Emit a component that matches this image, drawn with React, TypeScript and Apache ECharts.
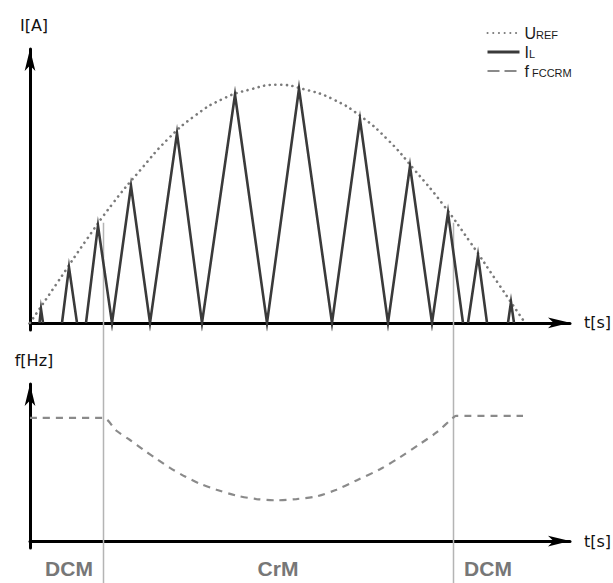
import React, { useEffect, useRef } from "react";
import * as echarts from "echarts";

// time axis (arbitrary units) and top-chart scale (U_REF peak = 1)
const T_MAX = 10.8;
const I_MIN = -0.03;
const I_MAX = 1.15;
const F_MIN = -0.056;
const F_MAX = 1.274;

// inductor current triangles: [start, peak time, end, peak value]
const ilTriangles: number[][] = [
  [0.19, 0.22, 0.26, 0.058],
  [0.64, 0.78, 0.94, 0.233],
  [1.12, 1.36, 1.64, 0.408],
  [1.64, 2.02, 2.4, 0.575],
  [2.4, 2.94, 3.44, 0.796],
  [3.44, 4.1, 4.74, 0.958],
  [4.74, 5.38, 6.04, 0.983],
  [6.04, 6.6, 7.16, 0.854],
  [7.16, 7.6, 8.04, 0.658],
  [8.04, 8.36, 8.66, 0.4625],
  [8.76, 8.96, 9.14, 0.283],
  [9.56, 9.62, 9.68, 0.0875],
];

// reference envelope U_REF
const urefT = [0, 0.55, 1.1, 1.65, 2.2, 2.75, 3.3, 3.85, 4.4, 4.95, 5.5, 6.05, 6.6, 7.15, 7.7, 8.25, 8.8, 9.35, 9.9];
const urefV = [0, 0.17, 0.34, 0.5, 0.64, 0.77, 0.87, 0.94, 0.98, 1.0, 0.98, 0.94, 0.87, 0.77, 0.64, 0.5, 0.34, 0.17, 0];

// switching frequency f_FCCRM
const fT = [0, 1.46, 1.73, 2.0, 2.27, 2.53, 2.8, 3.1, 3.4, 3.73, 4.13, 4.53, 4.93, 5.33, 5.73, 6.13, 6.53, 7.0, 7.4, 7.8, 8.13, 8.46, 8.52, 9.86];
const fV = [1.0, 1.0, 0.895, 0.82, 0.74, 0.667, 0.594, 0.524, 0.465, 0.417, 0.369, 0.341, 0.331, 0.341, 0.363, 0.417, 0.492, 0.583, 0.68, 0.788, 0.881, 1.0, 1.016, 1.016];

// operating modes
const modeBounds = [0.1, 1.46, 8.46, 9.86];
const modeLabels = ["DCM", "CrM", "DCM"];
const modeLineTop = 0.42;

const FONT = "DejaVu Sans";

function buildIL(): (number | null)[][] {
  const out: (number | null)[][] = [];
  let lastEnd: number | null = null;
  for (const [s, p, e, h] of ilTriangles) {
    const gap = lastEnd === null || Math.abs(lastEnd - s) > 1e-6;
    if (lastEnd !== null && gap) out.push([s, null]);
    if (gap) out.push([s, 0]);
    out.push([p, h]);
    out.push([e, 0]);
    lastEnd = e;
  }
  return out;
}

function axisLine() {
  return {
    show: true,
    onZero: true,
    symbol: ["none", "arrow"],
    symbolSize: [8, 22],
    lineStyle: { color: "#000", width: 3 },
  };
}

export default function App() {
  const ref = useRef<HTMLDivElement>(null);
  useEffect(() => {
    if (!ref.current) return;
    const chart = echarts.init(ref.current, null, { renderer: "svg" });
    const nameStyle = { fontFamily: FONT, fontSize: 16, color: "#111" };
    const xAxisBase = {
      type: "value",
      min: 0,
      max: T_MAX,
      axisLine: axisLine(),
      axisTick: { show: false },
      axisLabel: { show: false },
      splitLine: { show: false },
      name: "t[s]",
      nameLocation: "end",
      nameGap: 14,
      nameTextStyle: nameStyle,
    };
    const yAxisBase = {
      type: "value",
      axisLine: axisLine(),
      axisTick: { show: false },
      axisLabel: { show: false },
      splitLine: { show: false },
      nameLocation: "end",
      nameGap: 16,
      nameTextStyle: { ...nameStyle, padding: [0, 0, 0, 8] },
    };
    chart.setOption({
      animation: false,
      backgroundColor: "#fff",
      grid: [
        { left: 30, width: 540, top: 49, height: 281 },
        { left: 30, width: 540, top: 384, height: 164 },
      ],
      xAxis: [
        { ...xAxisBase, gridIndex: 0 },
        { ...xAxisBase, gridIndex: 1 },
      ],
      yAxis: [
        { ...yAxisBase, gridIndex: 0, min: I_MIN, max: I_MAX, name: "I[A]" },
        { ...yAxisBase, gridIndex: 1, min: F_MIN, max: F_MAX, name: "f[Hz]" },
      ],
      legend: {
        orient: "vertical",
        left: 481,
        top: 20,
        itemWidth: 32,
        itemHeight: 12,
        itemGap: 3,
        itemStyle: { opacity: 0 },
        data: [
          { name: "UREF" },
          { name: "IL", lineStyle: { width: 3 } },
          { name: "fFCCRM", lineStyle: { type: [12, 5] } },
        ],
        formatter: (name: string) =>
          ({ UREF: "{b|U}{s|REF}", IL: "{b|I}{s|L}", fFCCRM: "{b|f}{s| FCCRM}" } as any)[name],
        textStyle: {
          rich: {
            b: { fontSize: 16, fontFamily: "Liberation Sans", color: "#1a1a1a", verticalAlign: "bottom" },
            s: { fontSize: 11, fontFamily: "Liberation Sans", color: "#1a1a1a", verticalAlign: "bottom", padding: [0, 0, 1, 0] },
          },
        },
      },
      series: [
        {
          name: "UREF",
          type: "line",
          xAxisIndex: 0,
          yAxisIndex: 0,
          smooth: true,
          symbol: "none",
          data: urefT.map((t, i) => [t, urefV[i]]),
          lineStyle: { color: "#7a7a7a", width: 2.6, type: [0.1, 5.6], cap: "round" },
          itemStyle: { color: "#7a7a7a" },
          z: 3,
        },
        {
          name: "IL",
          type: "line",
          xAxisIndex: 0,
          yAxisIndex: 0,
          symbol: "none",
          connectNulls: false,
          data: buildIL(),
          lineStyle: { color: "#3a3a3a", width: 2.6, join: "miter", miterLimit: 8 },
          itemStyle: { color: "#3a3a3a" },
          z: 4,
        },
        {
          name: "fFCCRM",
          type: "line",
          xAxisIndex: 1,
          yAxisIndex: 1,
          smooth: 0.3,
          symbol: "none",
          data: fT.map((t, i) => [t, fV[i]]),
          lineStyle: { color: "#8a8a8a", width: 2.2, type: [7, 6] },
          itemStyle: { color: "#8a8a8a" },
          z: 3,
        },
      ],
    });

    const h = ref.current.clientHeight;
    const yLineTop = chart.convertToPixel({ yAxisIndex: 0 }, modeLineTop) as number;
    const yBottomAxis = chart.convertToPixel({ yAxisIndex: 1 }, 0) as number;
    const elements: any[] = [];
    [modeBounds[1], modeBounds[2]].forEach((b) => {
      const x = Math.round(chart.convertToPixel({ xAxisIndex: 0 }, b) as number) + 0.5;
      elements.push({
        type: "line",
        shape: { x1: x, y1: yLineTop, x2: x, y2: h },
        style: { stroke: "#b4b4b4", lineWidth: 1.5 },
        z: 1,
      });
    });
    modeLabels.forEach((lab, i) => {
      const cx = chart.convertToPixel({ xAxisIndex: 1 }, (modeBounds[i] + modeBounds[i + 1]) / 2) as number;
      elements.push({
        type: "text",
        x: cx,
        y: yBottomAxis + 27,
        style: {
          text: lab,
          fill: "#777",
          font: "bold 21px 'Liberation Sans'",
          align: "center",
          verticalAlign: "middle",
        },
        z: 5,
      });
    });
    chart.setOption({ graphic: elements });

    return () => chart.dispose();
  }, []);
  return (
    <div
      ref={ref}
      style={{ position: "absolute", left: 0, top: 0, width: 613, height: 583, background: "#fff" }}
    />
  );
}
